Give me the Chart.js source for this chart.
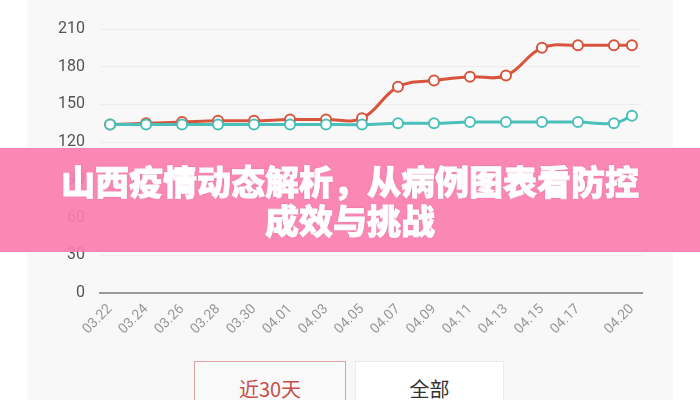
<!DOCTYPE html>
<html>
<head>
<meta charset="utf-8">
<script src="https://cdn.jsdelivr.net/npm/chart.js@4/dist/chart.umd.min.js"></script>
<style>
  html, body { margin: 0; padding: 0; background: #fff; }
  #wrap { position: relative; width: 700px; height: 400px; overflow: hidden; background: #fff; font-family: "Noto Sans CJK SC", "Noto Sans", sans-serif; }
  #panel { position: absolute; left: 27px; top: 0; width: 646px; height: 400px; background: #f8f8f8; }
  #cv { position: absolute; left: 0; top: 0; }
  .btn { position: absolute; top: 361px; height: 54px; line-height: 54px; text-align: center; font-size: 20px; box-sizing: border-box; }
  #b30 { left: 194px; width: 152px; border: 1px solid #dba3a3; background: #f9f9f9; color: #c5504a; }
  #ball { left: 355px; width: 149px; border: 1px solid #ececec; background: #fff; color: #333; }
  #banner { position: absolute; left: 0; top: 148px; width: 700px; height: 104px; background: rgba(251,125,175,0.92);
    color: #fff; text-align: center; font-size: 34px; font-weight: 900; line-height: 39px; padding-top: 13px; box-sizing: border-box;
    -webkit-text-stroke: 0.8px #fff; text-shadow: 0 0 2px rgba(120,40,70,0.35); }
</style>
</head>
<body>
<div id="wrap">
  <div id="panel"></div>
  <canvas id="cv" width="700" height="360"></canvas>
  <div class="btn" id="b30">近30天</div>
  <div class="btn" id="ball">全部</div>
  <div id="banner">山西疫情动态解析，从病例图表看防控<br>成效与挑战</div>
</div>
<script>
// dates of the points (month.day), one value per date in each series
const dates = ['03.22', '03.24', '03.26', '03.28', '03.30', '04.01', '04.03', '04.05',
               '04.07', '04.09', '04.11', '04.13', '04.15', '04.17', '04.19', '04.20'];
const redValues = [134, 135, 136, 137, 137, 138, 138, 139, 164, 169, 172, 173, 195, 197, 197, 197];
const tealValues = [134, 134, 134, 134, 134, 134, 134, 134, 135, 135, 136, 136, 136, 136, 135, 141];
const tickLabels = ['03.22', '03.24', '03.26', '03.28', '03.30', '04.01', '04.03', '04.05',
                    '04.07', '04.09', '04.11', '04.13', '04.15', '04.17', '04.20'];
const yTicks = [0, 30, 60, 90, 120, 150, 180, 210];

// day number counted from 03.22
const monthStart = { '03': 0, '04': 31 };
const dayIndex = s => {
  const [m, d] = s.split('.');
  return monthStart[m] + parseInt(d, 10) - 22;
};

const toPoints = vals => dates.map((d, i) => ({ x: dayIndex(d), y: vals[i] }));
const tickDays = tickLabels.map(dayIndex);
const labelOf = {};
tickLabels.forEach(t => { labelOf[dayIndex(t)] = t; });

const ctx = document.getElementById('cv').getContext('2d');
new Chart(ctx, {
  type: 'line',
  data: {
    datasets: [{
      label: 'teal',
      data: toPoints(tealValues),
      borderColor: '#4bc0b9',
      borderWidth: 3,
      pointRadius: 5,
      pointBackgroundColor: '#fff',
      pointBorderColor: '#4bc0b9',
      pointBorderWidth: 2,
      tension: 0.4
    }, {
      label: 'red',
      data: toPoints(redValues),
      borderColor: '#d8543c',
      borderWidth: 3,
      pointRadius: 5,
      pointBackgroundColor: '#fff',
      pointBorderColor: '#d8543c',
      pointBorderWidth: 2,
      tension: 0.4
    }]
  },
  options: {
    responsive: false,
    animation: false,
    layout: { padding: { top: 29, right: 58, left: 0, bottom: 0 } },
    plugins: { legend: { display: false }, tooltip: { enabled: false } },
    scales: {
      x: {
        type: 'linear',
        min: -0.56,
        max: 29.56,
        afterBuildTicks: scale => { scale.ticks = tickDays.map(v => ({ value: v })); },
        afterFit: scale => { scale.height = 67; },
        grid: { display: false, drawTicks: false },
        border: { display: true, color: '#9a9a9a', width: 2 },
        ticks: {
          autoSkip: false,
          minRotation: 45,
          maxRotation: 45,
          padding: 8,
          color: '#999',
          font: { family: 'Roboto', size: 14 },
          callback: v => labelOf[v] || ''
        }
      },
      y: {
        min: 0,
        max: 210,
        afterBuildTicks: scale => { scale.ticks = yTicks.map(v => ({ value: v })); },
        afterFit: scale => { scale.width = 100; },
        grid: { color: '#ededed', drawTicks: false },
        border: { display: false },
        ticks: {
          padding: 15,
          color: '#555',
          font: { family: 'Roboto', size: 16 }
        }
      }
    }
  }
});
</script>
</body>
</html>
